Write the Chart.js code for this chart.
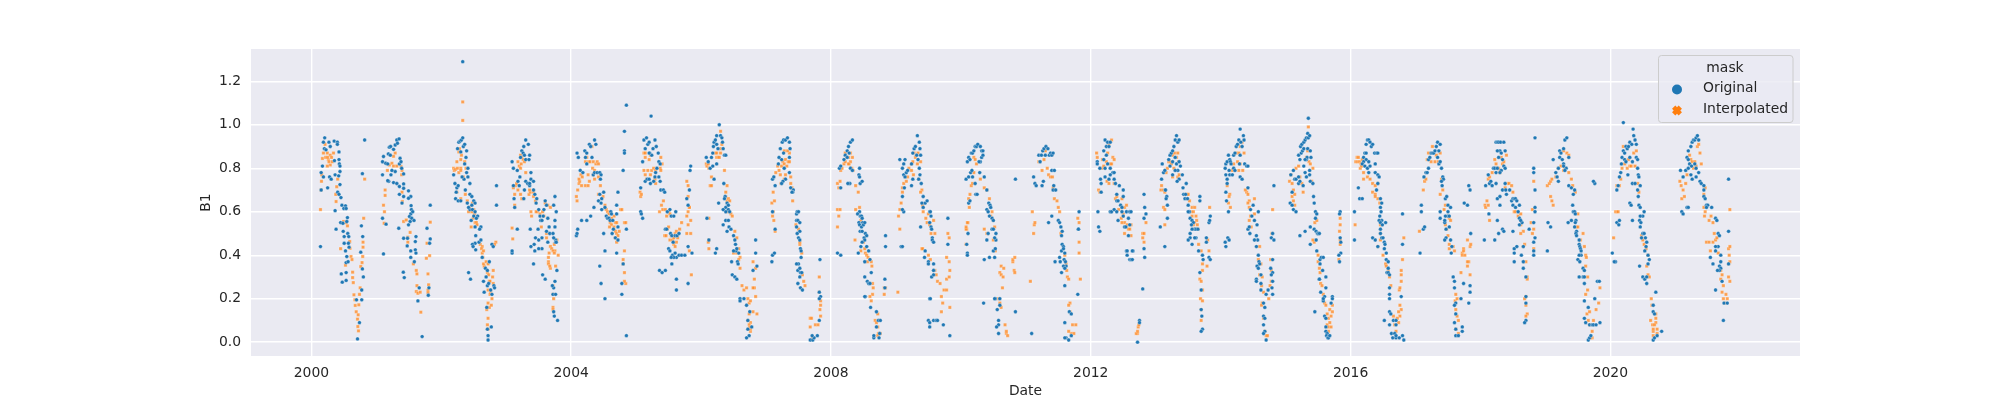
<!DOCTYPE html>
<html>
<head>
<meta charset="utf-8">
<script src="https://cdn.jsdelivr.net/npm/chart.js@4"></script>
<style>
  html, body { margin: 0; padding: 0; background: #fff; }
  canvas { display: block; }
</style>
</head>
<body>
<canvas id="chart" width="2000" height="400"></canvas>
<script>
const xTicks = [2000, 2004, 2008, 2012, 2016, 2020];
const yTicks = [0, 0.2, 0.4, 0.6, 0.8, 1.0, 1.2];
const legendTitle = 'mask';
const seriesNames = ['Original', 'Interpolated'];

// [date as decimal year, B1], one season at a time
const original = [
  [2000.14,.44],[2000.15,.78],[2000.17,.81],[2000.185,.92],[2000.205,.94],[2000.2,.89],[2000.185,.76],[2000.15,.7],[2000.25,.71],[2000.28,.76],[2000.305,.75],[2000.225,.885],[2000.27,.92],[2000.29,.9],[2000.35,.925],[2000.4,.92],[2000.4,.91],[2000.425,.875],[2000.355,.835],[2000.425,.84],[2000.43,.82],[2000.44,.81],[2000.44,.785],[2000.365,.77],[2000.42,.765],[2000.44,.725],[2000.405,.69],[2000.425,.68],[2000.455,.665],[2000.47,.63],[2000.525,.627],[2000.5,.615],[2000.535,.615],[2000.365,.605],[2000.45,.55],[2000.485,.547],[2000.555,.573],[2000.545,.555],[2000.38,.52],[2000.49,.51],[2000.56,.5],[2000.505,.486],[2000.575,.486],[2000.505,.455],[2000.57,.455],[2000.58,.437],[2000.525,.42],[2000.545,.394],[2000.535,.366],[2000.565,.37],[2000.46,.314],[2000.535,.32],[2000.475,.276],[2000.535,.284],[2000.71,.015],[2000.74,.09],[2000.695,.195],[2000.775,.195],[2000.775,.24],[2000.8,.3],[2000.785,.337],[2000.76,.414],[2000.79,.486],[2000.77,.535],[2000.785,.775],[2000.82,.93],
  [2001.11,.406],[2001.095,.57],[2001.15,.543],[2001.095,.77],[2001.11,.854],[2001.095,.83],[2001.145,.823],[2001.175,.82],[2001.2,.897],[2001.22,.9],[2001.185,.866],[2001.215,.86],[2001.265,.887],[2001.29,.907],[2001.315,.93],[2001.35,.935],[2001.325,.915],[2001.365,.846],[2001.355,.82],[2001.38,.83],[2001.39,.8],[2001.42,.774],[2001.29,.785],[2001.24,.79],[2001.225,.77],[2001.19,.74],[2001.175,.743],[2001.265,.734],[2001.315,.73],[2001.355,.716],[2001.355,.68],[2001.42,.728],[2001.42,.708],[2001.495,.696],[2001.53,.67],[2001.495,.662],[2001.42,.67],[2001.395,.64],[2001.535,.628],[2001.54,.61],[2001.53,.59],[2001.51,.578],[2001.545,.57],[2001.56,.6],[2001.52,.555],[2001.495,.54],[2001.58,.56],[2001.345,.524],[2001.42,.478],[2001.48,.478],[2001.61,.486],[2001.6,.463],[2001.475,.443],[2001.53,.42],[2001.6,.425],[2001.61,.41],[2001.53,.39],[2001.585,.37],[2001.415,.322],[2001.43,.297],[2001.66,.25],[2001.64,.19],[2001.705,.026],[2001.78,.524],[2001.83,.63],[2001.83,.475],[2001.82,.455],[2001.8,.216],[2001.81,.25],
  [2002.19,.77],[2002.21,.73],[2002.25,.89],[2002.27,.92],[2002.29,.925],[2002.31,.93],[2002.33,1.29],[2002.33,.94],[2002.34,.9],[2002.3,.875],[2002.36,.91],[2002.39,.88],[2002.38,.85],[2002.36,.82],[2002.39,.78],[2002.41,.8],[2002.41,.76],[2002.35,.75],[2002.32,.76],[2002.24,.71],[2002.23,.69],[2002.22,.66],[2002.26,.72],[2002.26,.65],[2002.3,.65],[2002.37,.7],[2002.44,.73],[2002.44,.68],[2002.47,.67],[2002.4,.64],[2002.47,.63],[2002.5,.65],[2002.52,.64],[2002.44,.61],[2002.42,.62],[2002.48,.61],[2002.52,.6],[2002.5,.58],[2002.56,.58],[2002.54,.57],[2002.46,.56],[2002.52,.53],[2002.61,.53],[2002.59,.52],[2002.53,.49],[2002.58,.46],[2002.52,.455],[2002.48,.45],[2002.49,.44],[2002.53,.425],[2002.61,.47],[2002.63,.39],[2002.42,.32],[2002.45,.29],[2002.65,.28],[2002.68,.34],[2002.71,.33],[2002.69,.3],[2002.71,.26],[2002.73,.27],[2002.66,.23],[2002.7,.16],[2002.78,.22],[2002.76,.24],[2002.74,.37],[2002.71,.06],[2002.72,.03],[2002.72,.01],[2002.77,.07],[2002.81,.26],[2002.85,.72],[2002.85,.63],[2002.78,.45],[2002.8,.44],[2002.82,.25],
  [2003.09,.41],[2003.09,.42],[2003.09,.83],[2003.11,.72],[2003.11,.8],[2003.12,.66],[2003.13,.62],[2003.17,.52],[2003.17,.79],[2003.18,.74],[2003.2,.72],[2003.21,.76],[2003.22,.85],[2003.24,.88],[2003.26,.87],[2003.27,.9],[2003.3,.93],[2003.28,.86],[2003.3,.84],[2003.34,.91],[2003.36,.86],[2003.35,.84],[2003.3,.74],[2003.33,.73],[2003.27,.66],[2003.28,.7],[2003.36,.72],[2003.36,.73],[2003.38,.75],[2003.38,.78],[2003.42,.74],[2003.42,.7],[2003.44,.68],[2003.47,.66],[2003.46,.64],[2003.5,.61],[2003.52,.58],[2003.53,.56],[2003.55,.56],[2003.57,.58],[2003.58,.61],[2003.6,.65],[2003.62,.63],[2003.64,.57],[2003.66,.53],[2003.62,.51],[2003.67,.5],[2003.45,.48],[2003.37,.52],[2003.49,.52],[2003.5,.47],[2003.55,.48],[2003.55,.43],[2003.5,.43],[2003.43,.45],[2003.38,.44],[2003.44,.42],[2003.42,.36],[2003.56,.31],[2003.6,.29],[2003.64,.46],[2003.72,.5],[2003.75,.53],[2003.75,.56],[2003.73,.63],[2003.75,.67],[2003.77,.6],[2003.76,.47],[2003.76,.46],[2003.77,.46],[2003.73,.48],[2003.78,.33],[2003.75,.28],[2003.73,.25],[2003.71,.26],[2003.72,.22],[2003.76,.22],[2003.74,.12],[2003.73,.14],[2003.79,.1],
  [2004.08,.49],[2004.09,.5],[2004.1,.52],[2004.16,.56],[2004.09,.87],[2004.11,.85],[2004.14,.79],[2004.18,.78],[2004.21,.88],[2004.24,.87],[2004.22,.85],[2004.24,.82],[2004.28,.91],[2004.3,.9],[2004.36,.93],[2004.38,.91],[2004.32,.85],[2004.34,.77],[2004.36,.78],[2004.4,.78],[2004.44,.78],[2004.46,.77],[2004.45,.75],[2004.44,.68],[2004.47,.66],[2004.5,.69],[2004.42,.65],[2004.35,.62],[2004.3,.58],[2004.24,.56],[2004.46,.64],[2004.47,.61],[2004.52,.62],[2004.54,.58],[2004.56,.57],[2004.58,.57],[2004.6,.56],[2004.61,.6],[2004.62,.59],[2004.64,.56],[2004.65,.52],[2004.63,.5],[2004.7,.59],[2004.7,.63],[2004.72,.69],[2004.72,.53],[2004.68,.48],[2004.72,.47],[2004.5,.5],[2004.52,.42],[2004.7,.41],[2004.8,.36],[2004.78,.27],[2004.78,.22],[2004.44,.35],[2004.46,.27],[2004.52,.2],[2004.85,1.09],[2004.82,.97],[2004.82,.88],[2004.82,.87],[2004.8,.79],[2004.85,.52],[2004.85,.03],
  [2005.07,.6],[2005.08,.59],[2005.1,.57],[2005.07,.71],[2005.1,.83],[2005.12,.93],[2005.14,.89],[2005.16,.94],[2005.18,.91],[2005.2,.92],[2005.21,.87],[2005.24,.86],[2005.26,.89],[2005.29,.93],[2005.31,.9],[2005.34,.87],[2005.23,1.04],[2005.2,.87],[2005.14,.74],[2005.17,.75],[2005.2,.75],[2005.22,.73],[2005.27,.74],[2005.29,.76],[2005.3,.78],[2005.32,.8],[2005.35,.83],[2005.37,.82],[2005.35,.76],[2005.37,.74],[2005.38,.7],[2005.42,.7],[2005.44,.69],[2005.48,.6],[2005.52,.61],[2005.54,.58],[2005.58,.58],[2005.61,.6],[2005.45,.52],[2005.47,.52],[2005.53,.5],[2005.55,.49],[2005.57,.46],[2005.6,.49],[2005.63,.49],[2005.66,.5],[2005.5,.43],[2005.52,.42],[2005.56,.4],[2005.6,.41],[2005.62,.39],[2005.58,.39],[2005.54,.39],[2005.66,.4],[2005.7,.4],[2005.75,.4],[2005.36,.33],[2005.4,.32],[2005.45,.33],[2005.55,.36],[2005.62,.29],[2005.62,.24],[2005.8,.27],[2005.82,.7],[2005.84,.81],[2005.83,.79],[2005.8,.63],[2005.78,.66],[2005.8,.44],[2005.86,.41],
  [2006.08,.85],[2006.11,.83],[2006.14,.8],[2006.16,.85],[2006.18,.87],[2006.19,.9],[2006.2,.92],[2006.22,.93],[2006.24,.91],[2006.26,.89],[2006.24,.95],[2006.28,1.0],[2006.3,.95],[2006.32,.94],[2006.33,.92],[2006.34,.89],[2006.36,.86],[2006.38,.86],[2006.24,.82],[2006.18,.81],[2006.2,.75],[2006.27,.64],[2006.09,.57],[2006.12,.47],[2006.22,.41],[2006.24,.43],[2006.35,.73],[2006.37,.67],[2006.36,.66],[2006.38,.62],[2006.4,.64],[2006.42,.63],[2006.42,.61],[2006.44,.6],[2006.38,.6],[2006.34,.61],[2006.38,.56],[2006.42,.56],[2006.43,.53],[2006.46,.52],[2006.34,.54],[2006.4,.51],[2006.5,.49],[2006.52,.47],[2006.53,.45],[2006.54,.42],[2006.55,.43],[2006.5,.42],[2006.58,.41],[2006.56,.37],[2006.57,.36],[2006.47,.37],[2006.48,.31],[2006.52,.3],[2006.55,.29],[2006.6,.2],[2006.6,.19],[2006.66,.2],[2006.7,.17],[2006.75,.14],[2006.72,.1],[2006.78,.07],[2006.72,.06],[2006.74,.03],[2006.7,.02],[2006.84,.47],[2006.84,.41],[2006.8,.33],[2006.86,.35],
  [2007.09,.37],[2007.1,.4],[2007.13,.41],[2007.1,.6],[2007.14,.52],[2007.1,.75],[2007.12,.76],[2007.14,.72],[2007.19,.82],[2007.22,.89],[2007.25,.92],[2007.27,.93],[2007.3,.93],[2007.33,.94],[2007.36,.92],[2007.37,.89],[2007.36,.85],[2007.27,.87],[2007.24,.84],[2007.2,.85],[2007.28,.8],[2007.3,.75],[2007.26,.74],[2007.24,.73],[2007.38,.71],[2007.36,.78],[2007.42,.7],[2007.41,.69],[2007.4,.69],[2007.47,.59],[2007.48,.6],[2007.5,.6],[2007.47,.56],[2007.49,.56],[2007.52,.55],[2007.47,.53],[2007.52,.51],[2007.48,.5],[2007.5,.48],[2007.52,.47],[2007.53,.43],[2007.54,.42],[2007.54,.39],[2007.5,.36],[2007.47,.36],[2007.49,.33],[2007.52,.34],[2007.53,.32],[2007.55,.32],[2007.52,.3],[2007.49,.27],[2007.53,.25],[2007.56,.24],[2007.83,.38],[2007.84,.21],[2007.82,.2],[2007.82,.23],[2007.82,.1],[2007.68,.01],[2007.72,.01],[2007.74,.02],[2007.79,.03],[2007.71,.03],
  [2008.1,.41],[2008.15,.4],[2008.15,.71],[2008.13,.8],[2008.15,.81],[2008.2,.84],[2008.22,.86],[2008.25,.88],[2008.27,.9],[2008.3,.92],[2008.33,.93],[2008.28,.87],[2008.25,.85],[2008.3,.8],[2008.33,.79],[2008.29,.73],[2008.26,.73],[2008.44,.8],[2008.43,.77],[2008.44,.76],[2008.45,.73],[2008.48,.74],[2008.44,.6],[2008.43,.55],[2008.41,.59],[2008.45,.58],[2008.47,.58],[2008.48,.57],[2008.49,.55],[2008.44,.54],[2008.47,.53],[2008.5,.54],[2008.52,.55],[2008.45,.51],[2008.48,.51],[2008.51,.48],[2008.53,.5],[2008.55,.49],[2008.52,.47],[2008.48,.46],[2008.55,.44],[2008.46,.44],[2008.42,.41],[2008.58,.42],[2008.6,.38],[2008.52,.37],[2008.62,.32],[2008.52,.3],[2008.56,.28],[2008.58,.27],[2008.6,.27],[2008.53,.21],[2008.52,.21],[2008.61,.16],[2008.7,.14],[2008.73,.1],[2008.7,.07],[2008.76,.1],[2008.66,.02],[2008.66,.03],[2008.74,.02],[2008.75,.04],[2008.84,.49],[2008.84,.44],[2008.83,.29],[2008.83,.25],
  [2009.08,.44],[2009.1,.44],[2009.06,.84],[2009.1,.8],[2009.12,.82],[2009.14,.84],[2009.12,.77],[2009.14,.76],[2009.16,.78],[2009.18,.79],[2009.12,.6],[2009.1,.67],[2009.1,.61],[2009.13,.71],[2009.24,.82],[2009.26,.87],[2009.28,.89],[2009.3,.9],[2009.32,.86],[2009.33,.95],[2009.36,.92],[2009.37,.89],[2009.38,.86],[2009.34,.84],[2009.36,.8],[2009.37,.77],[2009.35,.75],[2009.24,.72],[2009.26,.75],[2009.39,.73],[2009.42,.67],[2009.45,.64],[2009.4,.64],[2009.42,.62],[2009.48,.65],[2009.52,.6],[2009.53,.6],[2009.54,.58],[2009.52,.55],[2009.54,.53],[2009.55,.52],[2009.56,.48],[2009.56,.47],[2009.58,.46],[2009.38,.53],[2009.45,.42],[2009.44,.39],[2009.5,.37],[2009.5,.36],[2009.58,.36],[2009.58,.33],[2009.58,.33],[2009.55,.3],[2009.58,.31],[2009.52,.2],[2009.53,.2],[2009.5,.1],[2009.52,.07],[2009.52,.09],[2009.58,.1],[2009.62,.1],[2009.64,.1],[2009.8,.57],[2009.8,.45],[2009.73,.08],[2009.83,.03],
  [2010.09,.45],[2010.1,.41],[2010.1,.4],[2010.11,.5],[2010.12,.64],[2010.14,.65],[2010.08,.75],[2010.12,.76],[2010.15,.78],[2010.17,.79],[2010.18,.76],[2010.1,.83],[2010.12,.85],[2010.14,.84],[2010.16,.87],[2010.18,.87],[2010.2,.88],[2010.22,.9],[2010.24,.9],[2010.26,.91],[2010.3,.9],[2010.32,.88],[2010.34,.88],[2010.32,.85],[2010.3,.83],[2010.28,.83],[2010.34,.86],[2010.29,.78],[2010.22,.73],[2010.23,.68],[2010.25,.68],[2010.36,.76],[2010.4,.7],[2010.43,.64],[2010.45,.63],[2010.4,.61],[2010.42,.6],[2010.46,.62],[2010.44,.58],[2010.48,.57],[2010.5,.56],[2010.48,.52],[2010.5,.52],[2010.42,.5],[2010.4,.47],[2010.54,.5],[2010.54,.47],[2010.52,.48],[2010.5,.42],[2010.52,.39],[2010.53,.43],[2010.36,.38],[2010.44,.39],[2010.35,.18],[2010.53,.2],[2010.6,.2],[2010.52,.2],[2010.56,.15],[2010.58,.1],[2010.58,.08],[2010.84,.75],[2010.84,.14],[2010.6,.17],[2010.55,.07],[2010.58,.04],
  [2011.09,.04],[2011.12,.76],[2011.14,.73],[2011.16,.72],[2011.2,.86],[2011.22,.83],[2011.24,.86],[2011.26,.88],[2011.28,.89],[2011.31,.9],[2011.34,.89],[2011.36,.86],[2011.38,.87],[2011.4,.86],[2011.42,.87],[2011.3,.86],[2011.25,.72],[2011.27,.74],[2011.4,.79],[2011.44,.79],[2011.42,.7],[2011.43,.72],[2011.46,.7],[2011.35,.55],[2011.4,.58],[2011.5,.56],[2011.52,.55],[2011.54,.53],[2011.56,.51],[2011.55,.49],[2011.56,.45],[2011.55,.42],[2011.58,.44],[2011.6,.41],[2011.58,.43],[2011.52,.39],[2011.59,.38],[2011.61,.37],[2011.62,.35],[2011.58,.35],[2011.6,.34],[2011.6,.26],[2011.45,.37],[2011.55,.32],[2011.53,.37],[2011.6,.09],[2011.67,.14],[2011.7,.13],[2011.62,.02],[2011.66,.01],[2011.6,.02],[2011.7,.03],[2011.82,.6],[2011.81,.52],[2011.81,.52],[2011.8,.22],
  [2012.11,.6],[2012.12,.53],[2012.14,.51],[2012.1,.83],[2012.1,.82],[2012.14,.8],[2012.15,.75],[2012.16,.73],[2012.16,.69],[2012.2,.88],[2012.22,.93],[2012.24,.9],[2012.26,.92],[2012.28,.9],[2012.3,.92],[2012.24,.86],[2012.2,.84],[2012.22,.8],[2012.26,.82],[2012.3,.8],[2012.34,.78],[2012.36,.78],[2012.22,.76],[2012.28,.75],[2012.3,.77],[2012.36,.75],[2012.38,.73],[2012.4,.68],[2012.4,.65],[2012.42,.65],[2012.44,.72],[2012.5,.7],[2012.5,.67],[2012.3,.6],[2012.32,.6],[2012.36,.61],[2012.4,.6],[2012.42,.56],[2012.46,.63],[2012.48,.62],[2012.48,.6],[2012.5,.58],[2012.52,.53],[2012.54,.53],[2012.55,.6],[2012.58,.57],[2012.6,.6],[2012.62,.6],[2012.6,.54],[2012.58,.49],[2012.55,.42],[2012.56,.4],[2012.56,.42],[2012.6,.38],[2012.62,.38],[2012.64,.38],[2012.65,.42],[2012.64,.42],[2012.75,.1],[2012.75,.09],[2012.72,.0],[2012.82,.68],[2012.83,.62],[2012.82,.43],[2012.83,.39],[2012.8,.245],[2012.82,.57],[2012.85,.59],
  [2013.07,.53],[2013.09,.75],[2013.1,.82],[2013.12,.78],[2013.14,.79],[2013.15,.7],[2013.17,.67],[2013.16,.66],[2013.18,.63],[2013.18,.57],[2013.2,.84],[2013.22,.86],[2013.24,.87],[2013.26,.88],[2013.28,.9],[2013.3,.93],[2013.32,.95],[2013.34,.92],[2013.36,.93],[2013.3,.85],[2013.32,.82],[2013.26,.83],[2013.22,.81],[2013.38,.81],[2013.36,.83],[2013.34,.79],[2013.3,.79],[2013.26,.77],[2013.36,.75],[2013.33,.74],[2013.14,.44],[2013.15,.7],[2013.41,.77],[2013.42,.71],[2013.43,.68],[2013.45,.66],[2013.47,.73],[2013.46,.68],[2013.49,.66],[2013.5,.63],[2013.52,.6],[2013.53,.57],[2013.56,.56],[2013.58,.55],[2013.55,.54],[2013.6,.52],[2013.62,.52],[2013.56,.52],[2013.53,.5],[2013.62,.48],[2013.6,.48],[2013.65,.52],[2013.68,.67],[2013.68,.65],[2013.5,.6],[2013.53,.48],[2013.5,.47],[2013.56,.45],[2013.66,.42],[2013.72,.4],[2013.73,.38],[2013.78,.48],[2013.7,.24],[2013.68,.32],[2013.7,.15],[2013.71,.12],[2013.72,.06],[2013.7,.05],[2013.82,.55],[2013.84,.58],[2013.83,.56],[2013.78,.46],[2013.82,.39],[2013.84,.38],
  [2014.08,.44],[2014.07,.46],[2014.11,.48],[2014.13,.47],[2014.08,.69],[2014.09,.65],[2014.12,.6],[2014.07,.8],[2014.08,.82],[2014.1,.83],[2014.12,.86],[2014.14,.84],[2014.13,.79],[2014.15,.83],[2014.16,.82],[2014.08,.77],[2014.1,.75],[2014.1,.73],[2014.14,.77],[2014.18,.77],[2014.2,.8],[2014.22,.79],[2014.2,.86],[2014.22,.87],[2014.24,.9],[2014.26,.91],[2014.28,.93],[2014.3,.98],[2014.31,.92],[2014.33,.9],[2014.35,.95],[2014.36,.93],[2014.3,.86],[2014.29,.82],[2014.37,.82],[2014.4,.81],[2014.42,.81],[2014.3,.76],[2014.33,.75],[2014.42,.71],[2014.46,.61],[2014.48,.58],[2014.5,.63],[2014.52,.56],[2014.42,.52],[2014.44,.53],[2014.45,.5],[2014.56,.54],[2014.58,.6],[2014.55,.49],[2014.57,.47],[2014.52,.47],[2014.55,.44],[2014.58,.4],[2014.59,.37],[2014.6,.36],[2014.56,.35],[2014.58,.34],[2014.62,.31],[2014.62,.27],[2014.55,.29],[2014.55,.28],[2014.62,.24],[2014.7,.22],[2014.66,.18],[2014.68,.16],[2014.66,.12],[2014.68,.11],[2014.66,.08],[2014.68,.05],[2014.66,.04],[2014.7,.01],[2014.82,.72],[2014.8,.5],[2014.78,.48],[2014.82,.47],[2014.8,.38],[2014.77,.34],[2014.8,.32],[2014.78,.31],[2014.8,.28],[2014.79,.25],[2014.8,.22],[2014.73,.24],
  [2015.07,.64],[2015.1,.69],[2015.1,.63],[2015.12,.61],[2015.16,.6],[2015.08,.77],[2015.12,.79],[2015.14,.75],[2015.16,.75],[2015.2,.76],[2015.2,.73],[2015.22,.74],[2015.27,.72],[2015.3,.78],[2015.28,.81],[2015.32,.84],[2015.2,.86],[2015.24,.87],[2015.26,.88],[2015.28,.89],[2015.22,.84],[2015.23,.9],[2015.25,.91],[2015.28,.92],[2015.3,.93],[2015.32,.94],[2015.34,.96],[2015.35,.94],[2015.35,1.03],[2015.37,.95],[2015.34,.89],[2015.38,.88],[2015.33,.85],[2015.3,.84],[2015.39,.85],[2015.37,.79],[2015.37,.77],[2015.32,.76],[2015.38,.74],[2015.42,.73],[2015.43,.67],[2015.44,.64],[2015.46,.6],[2015.48,.59],[2015.46,.57],[2015.44,.52],[2015.47,.51],[2015.49,.5],[2015.5,.5],[2015.52,.5],[2015.47,.47],[2015.3,.51],[2015.22,.49],[2015.38,.53],[2015.38,.45],[2015.48,.42],[2015.57,.33],[2015.53,.36],[2015.53,.38],[2015.55,.39],[2015.58,.39],[2015.62,.3],[2015.54,.23],[2015.52,.29],[2015.52,.29],[2015.6,.21],[2015.58,.19],[2015.58,.2],[2015.62,.25],[2015.45,.14],[2015.6,.12],[2015.62,.11],[2015.62,.07],[2015.62,.05],[2015.64,.04],[2015.63,.03],[2015.65,.02],[2015.66,.02],[2015.68,.03],[2015.7,.18],[2015.72,.21],[2015.72,.2],[2015.84,.6],[2015.83,.59],[2015.84,.48],[2015.85,.46],[2015.85,.41],[2015.83,.37],[2015.82,.4],
  [2016.06,.6],[2016.06,.47],[2016.12,.71],[2016.14,.66],[2016.18,.66],[2016.2,.85],[2016.22,.87],[2016.24,.87],[2016.24,.91],[2016.26,.93],[2016.28,.93],[2016.3,.92],[2016.32,.9],[2016.34,.91],[2016.24,.84],[2016.2,.83],[2016.18,.82],[2016.22,.81],[2016.26,.8],[2016.28,.78],[2016.28,.83],[2016.37,.87],[2016.4,.87],[2016.42,.87],[2016.38,.82],[2016.3,.81],[2016.38,.78],[2016.42,.77],[2016.44,.76],[2016.42,.73],[2016.4,.7],[2016.46,.66],[2016.48,.64],[2016.46,.62],[2016.47,.6],[2016.45,.58],[2016.48,.56],[2016.44,.56],[2016.46,.55],[2016.49,.54],[2016.46,.52],[2016.54,.55],[2016.34,.48],[2016.46,.5],[2016.38,.47],[2016.42,.44],[2016.48,.48],[2016.5,.48],[2016.52,.46],[2016.53,.45],[2016.52,.43],[2016.55,.41],[2016.55,.38],[2016.58,.37],[2016.58,.34],[2016.56,.32],[2016.58,.32],[2016.6,.31],[2016.6,.25],[2016.6,.22],[2016.6,.2],[2016.6,.14],[2016.62,.13],[2016.66,.1],[2016.63,.04],[2016.65,.02],[2016.68,.04],[2016.7,.02],[2016.75,.02],[2016.52,.1],[2016.6,.08],[2016.7,.1],[2016.8,.59],[2016.8,.45],[2016.78,.21],[2016.7,.08],[2016.8,.03],[2016.82,.01],[2016.7,.03],
  [2017.07,.41],[2017.09,.6],[2017.09,.63],[2017.12,.52],[2017.14,.53],[2017.13,.76],[2017.16,.78],[2017.18,.78],[2017.2,.8],[2017.2,.84],[2017.22,.85],[2017.24,.87],[2017.26,.87],[2017.28,.87],[2017.3,.88],[2017.32,.9],[2017.34,.92],[2017.34,.85],[2017.36,.82],[2017.38,.91],[2017.36,.88],[2017.38,.83],[2017.4,.8],[2017.42,.76],[2017.43,.75],[2017.4,.74],[2017.41,.72],[2017.46,.66],[2017.48,.67],[2017.5,.63],[2017.5,.6],[2017.54,.62],[2017.5,.58],[2017.52,.58],[2017.46,.58],[2017.45,.55],[2017.52,.53],[2017.47,.52],[2017.45,.56],[2017.38,.6],[2017.38,.57],[2017.47,.48],[2017.45,.47],[2017.54,.47],[2017.56,.44],[2017.55,.41],[2017.58,.3],[2017.6,.25],[2017.6,.28],[2017.62,.18],[2017.6,.17],[2017.6,.09],[2017.62,.06],[2017.62,.03],[2017.66,.03],[2017.7,.2],[2017.72,.05],[2017.72,.07],[2017.62,.13],[2017.84,.7],[2017.82,.72],[2017.8,.63],[2017.85,.5],[2017.84,.26],[2017.84,.23],[2017.82,.18],[2017.75,.64],[2017.74,.27],
  [2018.06,.47],[2018.08,.72],[2018.12,.77],[2018.14,.73],[2018.16,.74],[2018.18,.72],[2018.13,.59],[2018.2,.8],[2018.22,.8],[2018.24,.78],[2018.26,.8],[2018.28,.85],[2018.3,.88],[2018.32,.87],[2018.26,.88],[2018.24,.92],[2018.26,.92],[2018.28,.92],[2018.31,.92],[2018.36,.92],[2018.38,.88],[2018.34,.84],[2018.36,.81],[2018.38,.8],[2018.32,.79],[2018.3,.78],[2018.24,.73],[2018.26,.66],[2018.3,.67],[2018.34,.7],[2018.38,.73],[2018.39,.7],[2018.4,.68],[2018.45,.7],[2018.48,.65],[2018.5,.66],[2018.52,.66],[2018.54,.66],[2018.56,.65],[2018.5,.63],[2018.54,.62],[2018.6,.63],[2018.58,.6],[2018.6,.57],[2018.6,.54],[2018.64,.55],[2018.62,.56],[2018.3,.63],[2018.26,.56],[2018.22,.47],[2018.28,.5],[2018.34,.52],[2018.36,.51],[2018.5,.51],[2018.52,.43],[2018.52,.41],[2018.52,.37],[2018.56,.44],[2018.63,.4],[2018.66,.37],[2018.66,.44],[2018.66,.34],[2018.7,.3],[2018.7,.21],[2018.7,.18],[2018.75,.52],[2018.82,.55],[2018.82,.46],[2018.82,.42],[2018.82,.4],[2018.84,.48],[2018.84,.6],[2018.84,.62],[2018.84,.7],[2018.82,.78],[2018.82,.8],[2018.84,.94],[2018.7,.1],[2018.68,.09],
  [2019.03,.42],[2019.04,.55],[2019.08,.53],[2019.12,.84],[2019.16,.78],[2019.18,.76],[2019.2,.8],[2019.22,.85],[2019.22,.88],[2019.24,.87],[2019.26,.84],[2019.28,.82],[2019.28,.89],[2019.3,.93],[2019.33,.94],[2019.36,.85],[2019.32,.8],[2019.3,.79],[2019.28,.81],[2019.2,.74],[2019.36,.72],[2019.4,.71],[2019.43,.68],[2019.45,.7],[2019.42,.63],[2019.43,.6],[2019.45,.6],[2019.46,.59],[2019.47,.56],[2019.46,.55],[2019.45,.53],[2019.48,.51],[2019.4,.56],[2019.35,.55],[2019.47,.5],[2019.48,.49],[2019.52,.47],[2019.52,.45],[2019.53,.44],[2019.54,.43],[2019.55,.42],[2019.55,.4],[2019.52,.4],[2019.5,.38],[2019.53,.37],[2019.58,.34],[2019.6,.33],[2019.58,.3],[2019.6,.3],[2019.52,.3],[2019.6,.27],[2019.6,.19],[2019.66,.16],[2019.6,.11],[2019.62,.09],[2019.68,.08],[2019.72,.08],[2019.74,.08],[2019.66,.01],[2019.68,.02],[2019.7,.03],[2019.8,.28],[2019.83,.28],[2019.76,.2],[2019.78,.08],[2019.84,.09],[2019.76,.73],[2019.74,.74],
  [2020.08,.37],[2020.1,.55],[2020.13,.54],[2020.14,.56],[2020.1,.7],[2020.12,.72],[2020.14,.76],[2020.16,.78],[2020.17,.82],[2020.18,.85],[2020.2,.88],[2020.22,.87],[2020.24,.9],[2020.22,.84],[2020.24,.83],[2020.26,.89],[2020.28,.9],[2020.3,.92],[2020.3,.85],[2020.33,.91],[2020.36,.95],[2020.38,.93],[2020.4,.91],[2020.2,1.01],[2020.35,.98],[2020.34,.83],[2020.4,.85],[2020.42,.84],[2020.42,.8],[2020.43,.77],[2020.44,.76],[2020.27,.77],[2020.34,.73],[2020.3,.64],[2020.32,.63],[2020.38,.73],[2020.42,.7],[2020.46,.72],[2020.43,.67],[2020.44,.63],[2020.46,.62],[2020.5,.58],[2020.52,.6],[2020.46,.58],[2020.45,.56],[2020.47,.55],[2020.34,.56],[2020.46,.53],[2020.5,.5],[2020.52,.5],[2020.48,.48],[2020.54,.48],[2020.56,.46],[2020.55,.44],[2020.53,.42],[2020.58,.4],[2020.6,.38],[2020.58,.36],[2020.45,.35],[2020.5,.3],[2020.53,.29],[2020.56,.3],[2020.56,.27],[2020.7,.23],[2020.66,.17],[2020.66,.14],[2020.68,.13],[2020.66,.01],[2020.68,.02],[2020.72,.03],[2020.79,.05],[2020.06,.37],[2020.03,.41],
  [2021.08,.79],[2021.12,.76],[2021.16,.79],[2021.2,.8],[2021.1,.6],[2021.12,.59],[2021.18,.62],[2021.2,.62],[2021.18,.85],[2021.2,.88],[2021.24,.9],[2021.26,.92],[2021.28,.93],[2021.3,.93],[2021.32,.94],[2021.34,.95],[2021.36,.93],[2021.2,.84],[2021.22,.82],[2021.25,.81],[2021.3,.82],[2021.32,.8],[2021.24,.77],[2021.26,.75],[2021.32,.76],[2021.36,.78],[2021.38,.74],[2021.4,.73],[2021.44,.72],[2021.44,.7],[2021.44,.67],[2021.46,.66],[2021.48,.63],[2021.5,.63],[2021.48,.62],[2021.56,.62],[2021.62,.57],[2021.64,.56],[2021.66,.5],[2021.68,.49],[2021.66,.44],[2021.62,.44],[2021.62,.42],[2021.54,.39],[2021.58,.36],[2021.7,.37],[2021.68,.35],[2021.7,.34],[2021.68,.33],[2021.65,.33],[2021.7,.4],[2021.72,.28],[2021.62,.24],[2021.75,.18],[2021.74,.1],[2021.82,.75],[2021.82,.51],[2021.82,.36],[2021.8,.18]
];
const interpolated = [
  [2000.14,.61],[2000.15,.7],[2000.155,.74],[2000.16,.77],[2000.17,.845],[2000.185,.87],[2000.21,.91],[2000.245,.87],[2000.29,.86],[2000.26,.84],[2000.29,.815],[2000.245,.81],[2000.34,.87],[2000.32,.83],[2000.22,.85],[2000.25,.85],[2000.31,.85],[2000.27,.83],[2000.405,.75],[2000.39,.715],[2000.375,.68],[2000.38,.647],[2000.495,.555],[2000.535,.55],[2000.555,.535],[2000.45,.43],[2000.59,.463],[2000.595,.432],[2000.61,.394],[2000.625,.38],[2000.525,.354],[2000.635,.322],[2000.635,.297],[2000.645,.274],[2000.655,.218],[2000.67,.195],[2000.675,.169],[2000.73,.172],[2000.69,.14],[2000.71,.106],[2000.72,.126],[2000.715,.072],[2000.725,.052],[2000.74,.22],[2000.75,.25],[2000.76,.348],[2000.78,.366],[2000.79,.394],[2000.795,.437],[2000.795,.46],[2000.805,.57],[2000.82,.75],
  [2001.11,.63],[2001.125,.6],[2001.12,.547],[2001.135,.7],[2001.135,.675],[2001.17,.79],[2001.2,.815],[2001.265,.855],[2001.24,.823],[2001.265,.81],[2001.315,.81],[2001.38,.808],[2001.395,.79],[2001.29,.87],[2001.39,.77],[2001.395,.69],[2001.4,.647],[2001.42,.555],[2001.46,.562],[2001.485,.483],[2001.485,.46],[2001.52,.505],[2001.83,.552],[2001.82,.398],[2001.78,.455],[2001.77,.386],[2001.615,.33],[2001.625,.314],[2001.57,.36],[2001.625,.26],[2001.615,.233],[2001.64,.225],[2001.675,.23],[2001.685,.138],[2001.795,.314],[2001.805,.264],[2001.795,.24],[2001.795,.228],
  [2002.19,.8],[2002.2,.79],[2002.22,.795],[2002.24,.83],[2002.27,.875],[2002.28,.89],[2002.31,.86],[2002.3,.84],[2002.25,.8],[2002.27,.78],[2002.3,.8],[2002.33,1.105],[2002.33,1.02],[2002.36,.83],[2002.38,.8],[2002.3,.79],[2002.34,.76],[2002.24,.69],[2002.3,.66],[2002.37,.68],[2002.4,.65],[2002.48,.64],[2002.44,.62],[2002.5,.61],[2002.51,.59],[2002.47,.6],[2002.52,.55],[2002.54,.55],[2002.55,.54],[2002.42,.6],[2002.46,.53],[2002.49,.57],[2002.6,.45],[2002.63,.44],[2002.62,.43],[2002.63,.41],[2002.64,.39],[2002.65,.42],[2002.66,.35],[2002.65,.36],[2002.69,.37],[2002.71,.32],[2002.72,.36],[2002.73,.31],[2002.74,.28],[2002.76,.23],[2002.72,.24],[2002.75,.22],[2002.72,.18],[2002.7,.15],[2002.74,.16],[2002.72,.11],[2002.71,.08],[2002.72,.06],[2002.8,.27],[2002.79,.3],[2002.8,.33],[2002.84,.46],[2002.82,.45],[2002.75,.28],[2002.78,.2],[2002.77,.17],
  [2003.09,.525],[2003.1,.475],[2003.11,.71],[2003.13,.68],[2003.14,.72],[2003.16,.73],[2003.13,.63],[2003.2,.81],[2003.22,.86],[2003.18,.83],[2003.24,.85],[2003.26,.84],[2003.28,.83],[2003.23,.82],[2003.22,.8],[2003.3,.78],[2003.18,.7],[2003.22,.68],[2003.24,.66],[2003.35,.68],[2003.37,.69],[2003.36,.7],[2003.42,.69],[2003.42,.67],[2003.45,.65],[2003.48,.6],[2003.52,.59],[2003.56,.6],[2003.58,.58],[2003.6,.64],[2003.46,.6],[2003.38,.6],[2003.39,.58],[2003.54,.53],[2003.62,.5],[2003.62,.48],[2003.64,.63],[2003.68,.62],[2003.68,.44],[2003.66,.41],[2003.65,.39],[2003.65,.37],[2003.65,.36],[2003.68,.34],[2003.67,.35],[2003.72,.26],[2003.72,.22],[2003.73,.2],[2003.72,.16],[2003.72,.15],[2003.78,.47],[2003.74,.45],[2003.75,.42],[2003.7,.43],[2003.72,.42],[2003.74,.41],[2003.8,.4],[2003.76,.35],
  [2004.08,.67],[2004.09,.65],[2004.1,.7],[2004.12,.73],[2004.13,.74],[2004.15,.77],[2004.12,.75],[2004.17,.76],[2004.16,.72],[2004.22,.72],[2004.26,.72],[2004.22,.83],[2004.24,.85],[2004.27,.83],[2004.29,.83],[2004.28,.74],[2004.36,.75],[2004.26,.77],[2004.32,.9],[2004.34,.83],[2004.33,.8],[2004.34,.77],[2004.38,.82],[2004.4,.83],[2004.36,.79],[2004.42,.82],[2004.4,.78],[2004.42,.76],[2004.45,.72],[2004.42,.68],[2004.49,.67],[2004.52,.63],[2004.54,.61],[2004.56,.6],[2004.58,.59],[2004.6,.55],[2004.62,.54],[2004.64,.56],[2004.66,.58],[2004.68,.55],[2004.62,.57],[2004.59,.53],[2004.66,.53],[2004.68,.51],[2004.7,.55],[2004.7,.5],[2004.68,.48],[2004.7,.46],[2004.72,.49],[2004.74,.51],[2004.76,.61],[2004.78,.61],[2004.82,.55],[2004.84,.55],[2004.82,.42],[2004.8,.36],[2004.82,.32],[2004.84,.27],[2004.82,.28],[2004.8,.38],
  [2005.06,.69],[2005.07,.67],[2005.08,.68],[2005.12,.79],[2005.14,.77],[2005.16,.75],[2005.18,.79],[2005.2,.84],[2005.22,.86],[2005.14,.85],[2005.12,.87],[2005.14,.87],[2005.22,.77],[2005.24,.79],[2005.27,.8],[2005.3,.79],[2005.29,.75],[2005.3,.73],[2005.37,.8],[2005.38,.79],[2005.38,.85],[2005.4,.82],[2005.36,.6],[2005.39,.63],[2005.41,.61],[2005.42,.65],[2005.45,.61],[2005.47,.58],[2005.5,.6],[2005.52,.59],[2005.48,.52],[2005.5,.53],[2005.44,.49],[2005.46,.49],[2005.52,.47],[2005.54,.49],[2005.56,.47],[2005.58,.48],[2005.6,.5],[2005.62,.51],[2005.65,.5],[2005.64,.48],[2005.58,.45],[2005.6,.44],[2005.62,.46],[2005.67,.52],[2005.7,.55],[2005.78,.5],[2005.8,.54],[2005.8,.6],[2005.82,.62],[2005.8,.67],[2005.82,.62],[2005.84,.56],[2005.78,.58],[2005.84,.5],[2005.8,.72],[2005.78,.74],[2005.82,.42],[2005.85,.31],
  [2006.08,.82],[2006.09,.81],[2006.11,.82],[2006.12,.8],[2006.14,.72],[2006.16,.76],[2006.16,.72],[2006.22,.87],[2006.24,.85],[2006.26,.85],[2006.3,.97],[2006.32,.91],[2006.3,.87],[2006.28,.85],[2006.24,.87],[2006.3,.89],[2006.12,.57],[2006.12,.47],[2006.11,.46],[2006.12,.43],[2006.36,.79],[2006.4,.72],[2006.38,.69],[2006.38,.67],[2006.4,.65],[2006.42,.66],[2006.44,.65],[2006.4,.6],[2006.46,.59],[2006.48,.58],[2006.52,.51],[2006.55,.48],[2006.58,.43],[2006.6,.39],[2006.5,.41],[2006.55,.41],[2006.58,.38],[2006.6,.34],[2006.63,.26],[2006.66,.24],[2006.7,.25],[2006.72,.2],[2006.74,.18],[2006.8,.37],[2006.84,.34],[2006.82,.29],[2006.82,.25],[2006.8,.25],[2006.86,.13],[2006.84,.21],[2006.8,.14],[2006.76,.19],[2006.74,.13],[2006.76,.09],[2006.74,.08],[2006.76,.05],[2006.76,.06],[2006.74,.06],[2006.72,.1],[2006.75,.07],
  [2007.09,.64],[2007.11,.69],[2007.13,.65],[2007.1,.58],[2007.11,.6],[2007.12,.56],[2007.14,.51],[2007.15,.78],[2007.18,.81],[2007.2,.79],[2007.22,.77],[2007.24,.81],[2007.26,.83],[2007.28,.82],[2007.3,.84],[2007.32,.81],[2007.3,.77],[2007.28,.75],[2007.23,.73],[2007.36,.87],[2007.33,.88],[2007.28,.88],[2007.34,.83],[2007.36,.83],[2007.38,.76],[2007.38,.73],[2007.4,.71],[2007.41,.65],[2007.46,.54],[2007.5,.52],[2007.52,.45],[2007.55,.41],[2007.52,.46],[2007.56,.31],[2007.58,.28],[2007.6,.26],[2007.82,.3],[2007.82,.23],[2007.84,.19],[2007.84,.17],[2007.83,.15],[2007.84,.12],[2007.68,.11],[2007.7,.11],[2007.68,.07],[2007.72,.02],[2007.76,.08],[2007.72,.02],[2007.8,.08],
  [2008.1,.61],[2008.12,.58],[2008.1,.53],[2008.14,.61],[2008.12,.71],[2008.1,.73],[2008.14,.74],[2008.15,.79],[2008.17,.8],[2008.2,.82],[2008.22,.83],[2008.24,.85],[2008.22,.87],[2008.27,.85],[2008.3,.87],[2008.28,.82],[2008.33,.85],[2008.3,.83],[2008.27,.82],[2008.32,.8],[2008.34,.79],[2008.38,.72],[2008.42,.69],[2008.44,.62],[2008.46,.56],[2008.38,.61],[2008.37,.47],[2008.46,.42],[2008.5,.46],[2008.52,.43],[2008.53,.41],[2008.55,.4],[2008.57,.39],[2008.6,.38],[2008.62,.37],[2008.63,.35],[2008.56,.37],[2008.64,.27],[2008.65,.25],[2008.64,.22],[2008.6,.21],[2008.62,.19],[2008.72,.13],[2008.68,.1],[2008.7,.09],[2008.72,.07],[2008.73,.04],[2008.72,.03],[2008.76,.04],[2008.82,.22],[2008.82,.25],[2008.84,.25],
  [2009.03,.23],[2009.06,.61],[2009.04,.58],[2009.06,.52],[2009.08,.64],[2009.1,.71],[2009.12,.73],[2009.1,.69],[2009.2,.8],[2009.18,.76],[2009.16,.74],[2009.24,.82],[2009.24,.79],[2009.26,.83],[2009.27,.77],[2009.3,.85],[2009.28,.87],[2009.34,.87],[2009.38,.83],[2009.33,.82],[2009.35,.75],[2009.4,.7],[2009.38,.69],[2009.41,.63],[2009.42,.6],[2009.46,.57],[2009.5,.59],[2009.54,.5],[2009.48,.55],[2009.52,.54],[2009.58,.56],[2009.6,.5],[2009.4,.43],[2009.41,.43],[2009.5,.4],[2009.53,.38],[2009.6,.33],[2009.62,.31],[2009.64,.28],[2009.68,.27],[2009.7,.21],[2009.72,.18],[2009.7,.14],[2009.8,.5],[2009.82,.48],[2009.78,.39],[2009.82,.37],[2009.83,.33],[2009.78,.29],[2009.82,.3],[2009.74,.24],[2009.78,.24],[2009.83,.16],
  [2010.08,.45],[2010.09,.52],[2010.08,.52],[2010.11,.55],[2010.13,.62],[2010.12,.66],[2010.14,.68],[2010.16,.72],[2010.18,.73],[2010.08,.53],[2010.1,.55],[2010.2,.78],[2010.2,.85],[2010.22,.84],[2010.24,.82],[2010.3,.75],[2010.36,.71],[2010.4,.7],[2010.44,.66],[2010.46,.58],[2010.48,.6],[2010.5,.56],[2010.52,.53],[2010.5,.47],[2010.53,.42],[2010.36,.52],[2010.4,.5],[2010.6,.32],[2010.62,.35],[2010.66,.34],[2010.62,.31],[2010.65,.3],[2010.64,.25],[2010.58,.2],[2010.6,.18],[2010.62,.16],[2010.68,.08],[2010.7,.04],[2010.7,.05],[2010.72,.03],[2010.8,.37],[2010.8,.38],[2010.83,.39],[2010.82,.33],[2010.83,.32],
  [2011.07,.28],[2011.12,.5],[2011.13,.54],[2011.1,.6],[2011.14,.55],[2011.2,.83],[2011.25,.79],[2011.28,.84],[2011.3,.88],[2011.33,.8],[2011.35,.77],[2011.38,.76],[2011.41,.76],[2011.42,.71],[2011.44,.66],[2011.48,.65],[2011.5,.62],[2011.52,.6],[2011.54,.5],[2011.6,.4],[2011.62,.36],[2011.63,.33],[2011.64,.3],[2011.66,.29],[2011.68,.18],[2011.66,.17],[2011.68,.14],[2011.7,.04],[2011.66,.05],[2011.72,.08],[2011.74,.04],[2011.77,.08],[2011.8,.57],[2011.82,.55],[2011.82,.46],[2011.82,.41],[2011.84,.29],
  [2012.1,.85],[2012.09,.87],[2012.12,.7],[2012.14,.69],[2012.17,.8],[2012.18,.84],[2012.2,.81],[2012.24,.83],[2012.26,.87],[2012.28,.91],[2012.32,.93],[2012.3,.82],[2012.34,.85],[2012.36,.84],[2012.32,.82],[2012.25,.74],[2012.28,.73],[2012.36,.73],[2012.38,.66],[2012.4,.67],[2012.43,.61],[2012.47,.57],[2012.5,.59],[2012.48,.66],[2012.5,.58],[2012.52,.62],[2012.55,.63],[2012.52,.55],[2012.56,.54],[2012.58,.52],[2012.52,.5],[2012.6,.52],[2012.62,.49],[2012.48,.55],[2012.62,.54],[2012.72,.04],[2012.7,.04],[2012.72,.05],[2012.73,.07],[2012.74,.08],[2012.8,.5],[2012.82,.5],[2012.8,.48],[2012.82,.46],[2012.85,.55],
  [2013.08,.7],[2013.09,.72],[2013.12,.7],[2013.14,.69],[2013.12,.62],[2013.14,.61],[2013.14,.54],[2013.16,.78],[2013.18,.8],[2013.2,.83],[2013.22,.83],[2013.24,.82],[2013.26,.86],[2013.29,.87],[2013.32,.85],[2013.34,.87],[2013.35,.83],[2013.34,.76],[2013.26,.76],[2013.28,.8],[2013.36,.77],[2013.48,.68],[2013.5,.68],[2013.52,.65],[2013.55,.6],[2013.56,.62],[2013.6,.62],[2013.58,.6],[2013.56,.58],[2013.62,.58],[2013.63,.56],[2013.6,.55],[2013.64,.54],[2013.58,.54],[2013.6,.52],[2013.65,.52],[2013.66,.45],[2013.7,.42],[2013.72,.36],[2013.68,.29],[2013.7,.28],[2013.72,.24],[2013.69,.2],[2013.72,.19],[2013.7,.15],[2013.7,.1],[2013.83,.62],[2013.8,.47],[2013.82,.42],[2013.79,.35],[2013.72,.33],
  [2014.12,.64],[2014.1,.72],[2014.14,.68],[2014.13,.67],[2014.15,.62],[2014.18,.79],[2014.2,.82],[2014.24,.87],[2014.26,.83],[2014.28,.87],[2014.3,.9],[2014.33,.92],[2014.36,.87],[2014.3,.82],[2014.28,.79],[2014.34,.79],[2014.4,.69],[2014.38,.7],[2014.42,.68],[2014.44,.65],[2014.42,.64],[2014.44,.62],[2014.52,.66],[2014.46,.58],[2014.44,.56],[2014.47,.53],[2014.52,.59],[2014.6,.44],[2014.58,.38],[2014.62,.36],[2014.6,.31],[2014.64,.3],[2014.63,.26],[2014.66,.23],[2014.64,.18],[2014.63,.17],[2014.66,.11],[2014.68,.05],[2014.7,.03],[2014.72,.03],[2014.8,.61],[2014.79,.5],[2014.77,.38],[2014.78,.33],[2014.76,.26],[2014.78,.28],[2014.74,.2],
  [2015.06,.74],[2015.08,.77],[2015.1,.73],[2015.12,.7],[2015.1,.67],[2015.14,.68],[2015.12,.65],[2015.14,.63],[2015.16,.8],[2015.2,.81],[2015.22,.76],[2015.25,.73],[2015.27,.69],[2015.32,.85],[2015.34,.88],[2015.36,.83],[2015.38,.82],[2015.35,.99],[2015.4,.74],[2015.42,.8],[2015.45,.55],[2015.48,.56],[2015.44,.46],[2015.42,.47],[2015.5,.4],[2015.5,.37],[2015.52,.34],[2015.53,.32],[2015.54,.27],[2015.56,.26],[2015.58,.22],[2015.6,.18],[2015.62,.17],[2015.64,.13],[2015.66,.11],[2015.64,.08],[2015.66,.07],[2015.66,.05],[2015.68,.09],[2015.68,.15],[2015.7,.12],[2015.72,.17],[2015.72,.14],[2015.7,.07],[2015.84,.57],[2015.84,.54],[2015.83,.51],[2015.84,.47],[2015.84,.45],[2015.82,.38],
  [2016.07,.54],[2016.08,.83],[2016.1,.85],[2016.11,.83],[2016.12,.85],[2016.14,.83],[2016.16,.82],[2016.18,.84],[2016.15,.8],[2016.17,.81],[2016.2,.75],[2016.2,.78],[2016.26,.76],[2016.3,.75],[2016.34,.73],[2016.34,.69],[2016.38,.68],[2016.42,.66],[2016.38,.67],[2016.42,.73],[2016.45,.64],[2016.38,.72],[2016.46,.54],[2016.46,.5],[2016.46,.47],[2016.42,.44],[2016.5,.4],[2016.54,.36],[2016.55,.35],[2016.58,.33],[2016.6,.3],[2016.62,.26],[2016.66,.12],[2016.7,.1],[2016.68,.08],[2016.7,.05],[2016.76,.12],[2016.74,.09],[2016.78,.15],[2016.76,.17],[2016.75,.24],[2016.78,.31],[2016.78,.33],[2016.82,.48],[2016.8,.38],[2016.78,.28],[2016.76,.25],[2016.74,.14],[2016.72,.11],
  [2017.06,.51],[2017.12,.7],[2017.14,.74],[2017.16,.75],[2017.18,.84],[2017.2,.87],[2017.24,.83],[2017.26,.9],[2017.3,.83],[2017.32,.86],[2017.35,.83],[2017.38,.87],[2017.4,.75],[2017.38,.68],[2017.42,.7],[2017.44,.61],[2017.46,.63],[2017.5,.58],[2017.52,.57],[2017.54,.56],[2017.46,.54],[2017.48,.52],[2017.5,.49],[2017.52,.45],[2017.52,.43],[2017.58,.44],[2017.6,.42],[2017.62,.22],[2017.61,.19],[2017.64,.2],[2017.62,.15],[2017.64,.12],[2017.66,.1],[2017.62,.06],[2017.66,.04],[2017.7,.32],[2017.72,.41],[2017.72,.4],[2017.84,.44],[2017.85,.45],[2017.8,.47],[2017.74,.43],[2017.74,.42],[2017.76,.4],[2017.82,.37],[2017.8,.35],[2017.84,.31],[2017.8,.37],
  [2018.07,.63],[2018.08,.62],[2018.1,.65],[2018.12,.63],[2018.14,.56],[2018.12,.75],[2018.14,.76],[2018.18,.78],[2018.22,.84],[2018.24,.82],[2018.26,.8],[2018.28,.8],[2018.3,.79],[2018.34,.82],[2018.3,.78],[2018.32,.85],[2018.36,.83],[2018.4,.86],[2018.42,.73],[2018.38,.71],[2018.44,.73],[2018.48,.72],[2018.5,.69],[2018.52,.6],[2018.54,.6],[2018.58,.58],[2018.62,.59],[2018.62,.54],[2018.66,.51],[2018.62,.5],[2018.68,.45],[2018.66,.44],[2018.7,.37],[2018.72,.3],[2018.72,.29],[2018.7,.21],[2018.68,.2],[2018.7,.17],[2018.72,.13],[2018.7,.12],[2018.82,.74],[2018.8,.61],[2018.78,.55],[2018.8,.5],[2018.82,.52],[2018.82,.43],
  [2019.03,.72],[2019.06,.73],[2019.08,.74],[2019.1,.75],[2019.08,.67],[2019.1,.65],[2019.12,.63],[2019.16,.76],[2019.2,.8],[2019.24,.81],[2019.28,.79],[2019.3,.8],[2019.33,.87],[2019.36,.86],[2019.28,.88],[2019.36,.78],[2019.4,.75],[2019.42,.72],[2019.46,.69],[2019.5,.59],[2019.48,.53],[2019.5,.53],[2019.54,.47],[2019.58,.5],[2019.6,.44],[2019.62,.4],[2019.63,.39],[2019.62,.35],[2019.65,.3],[2019.65,.24],[2019.62,.22],[2019.64,.13],[2019.68,.14],[2019.66,.1],[2019.68,.08],[2019.72,.05],[2019.72,.02],[2019.7,.02],[2019.74,.1],[2019.78,.15],[2019.82,.18],[2019.84,.25],
  [2020.05,.48],[2020.08,.6],[2020.1,.6],[2020.12,.6],[2020.1,.72],[2020.14,.72],[2020.16,.75],[2020.18,.8],[2020.2,.9],[2020.22,.82],[2020.26,.8],[2020.28,.84],[2020.3,.81],[2020.32,.81],[2020.36,.87],[2020.38,.81],[2020.4,.88],[2020.42,.73],[2020.44,.69],[2020.48,.49],[2020.5,.47],[2020.52,.45],[2020.55,.43],[2020.58,.4],[2020.56,.35],[2020.58,.31],[2020.6,.3],[2020.63,.2],[2020.62,.1],[2020.64,.17],[2020.65,.08],[2020.66,.05],[2020.66,.03],[2020.7,.13],[2020.7,.09],[2020.72,.04],[2020.68,.08],[2020.66,.06],[2020.7,.11],[2020.72,.06],
  [2021.07,.74],[2021.09,.72],[2021.1,.66],[2021.12,.7],[2021.14,.67],[2021.16,.73],[2021.18,.77],[2021.22,.86],[2021.24,.84],[2021.26,.83],[2021.28,.8],[2021.3,.83],[2021.32,.81],[2021.34,.9],[2021.36,.91],[2021.38,.87],[2021.4,.82],[2021.44,.68],[2021.46,.71],[2021.44,.62],[2021.46,.6],[2021.45,.58],[2021.52,.56],[2021.55,.58],[2021.58,.55],[2021.6,.5],[2021.58,.46],[2021.62,.47],[2021.64,.48],[2021.48,.46],[2021.52,.46],[2021.54,.42],[2021.64,.44],[2021.66,.41],[2021.7,.33],[2021.72,.31],[2021.7,.29],[2021.74,.26],[2021.72,.23],[2021.74,.2],[2021.76,.18],[2021.78,.22],[2021.8,.2],[2021.82,.43],[2021.84,.44],[2021.83,.4],[2021.84,.37],[2021.82,.36],[2021.84,.28],[2021.82,.3],[2021.84,.61]
];

const blue = '#1f77b4';
const orange = '#ff7f0e';
const textColor = '#262626';
const font = '"DejaVu Sans"';

const panel = {
  id: 'panel',
  beforeDraw(c) {
    const a = c.chartArea, ctx = c.ctx;
    ctx.fillStyle = '#eaeaf2';
    ctx.fillRect(a.left, a.top, a.right - a.left, a.bottom - a.top);
  },
  afterDraw(c) {
    const ctx = c.ctx;
    ctx.save();
    ctx.fillStyle = 'rgba(234,234,242,0.8)';
    ctx.strokeStyle = '#cccccc';
    ctx.lineWidth = 1;
    ctx.beginPath();
    ctx.roundRect(1658.5, 55.5, 134.5, 67, 3);
    ctx.fill();
    ctx.stroke();
    ctx.font = '13.9px ' + font;
    ctx.fillStyle = textColor;
    ctx.textBaseline = 'middle';
    ctx.textAlign = 'center';
    ctx.fillText(legendTitle, 1725, 68);
    ctx.textAlign = 'left';
    ctx.fillText(seriesNames[0], 1703, 88);
    ctx.fillText(seriesNames[1], 1703, 109);
    ctx.fillStyle = blue;
    ctx.beginPath();
    ctx.arc(1677, 89.5, 5, 0, Math.PI * 2);
    ctx.fill();
    // filled X marker
    const s = 1.65, cx = 1677, cy = 110.5;
    ctx.fillStyle = orange;
    ctx.beginPath();
    [[-1,-3],[0,-2],[1,-3],[3,-1],[2,0],[3,1],[1,3],[0,2],[-1,3],[-3,1],[-2,0],[-3,-1]].forEach((p, i) => {
      if (i === 0) ctx.moveTo(cx + p[0] * s, cy + p[1] * s);
      else ctx.lineTo(cx + p[0] * s, cy + p[1] * s);
    });
    ctx.closePath();
    ctx.fill();
    ctx.restore();
  }
};

new Chart(document.getElementById('chart'), {
  type: 'scatter',
  data: {
    datasets: [
      {
        label: seriesNames[0],
        data: original.map(p => ({ x: p[0], y: p[1] })),
        pointStyle: 'circle',
        pointRadius: 1.9,
        backgroundColor: blue,
        borderColor: 'rgba(255,255,255,0.5)',
        borderWidth: 0.6,
        order: 1
      },
      {
        label: seriesNames[1],
        data: interpolated.map(p => ({ x: p[0], y: p[1] })),
        pointStyle: 'rect',
        pointRadius: 2.3,
        backgroundColor: 'rgba(255,140,40,0.8)',
        borderColor: 'rgba(255,255,255,0.45)',
        borderWidth: 0.6,
        order: 2
      }
    ]
  },
  plugins: [panel],
  options: {
    responsive: false,
    animation: false,
    devicePixelRatio: 1,
    layout: { padding: { left: 198, right: 200, top: 49, bottom: 0 } },
    plugins: { legend: { display: false }, tooltip: { enabled: false } },
    scales: {
      x: {
        type: 'linear',
        min: 1999.07,
        max: 2022.92,
        afterBuildTicks: s => { s.ticks = xTicks.map(v => ({ value: v })); },
        afterFit: s => { s.height = 44; },
        grid: { color: '#ffffff', lineWidth: 1.4, drawTicks: false },
        border: { display: false },
        ticks: { color: textColor, font: { family: font, size: 13.9 }, padding: 9, maxRotation: 0, autoSkip: false, callback: v => String(v) },
        title: { display: true, text: 'Date', color: textColor, font: { family: font, size: 13.9 }, padding: { top: 5, bottom: 0 } }
      },
      y: {
        min: -0.0635,
        max: 1.3485,
        afterBuildTicks: s => { s.ticks = yTicks.map(v => ({ value: v })); },
        afterFit: s => { s.width = 53; },
        grid: { color: '#ffffff', lineWidth: 1.4, drawTicks: false },
        border: { display: false },
        ticks: { color: textColor, font: { family: font, size: 13.9 }, padding: 10, autoSkip: false, callback: v => v.toFixed(1) },
        title: { display: true, text: 'B1', color: textColor, font: { family: font, size: 13.9 }, padding: 0 }
      }
    }
  }
});
</script>
</body>
</html>
